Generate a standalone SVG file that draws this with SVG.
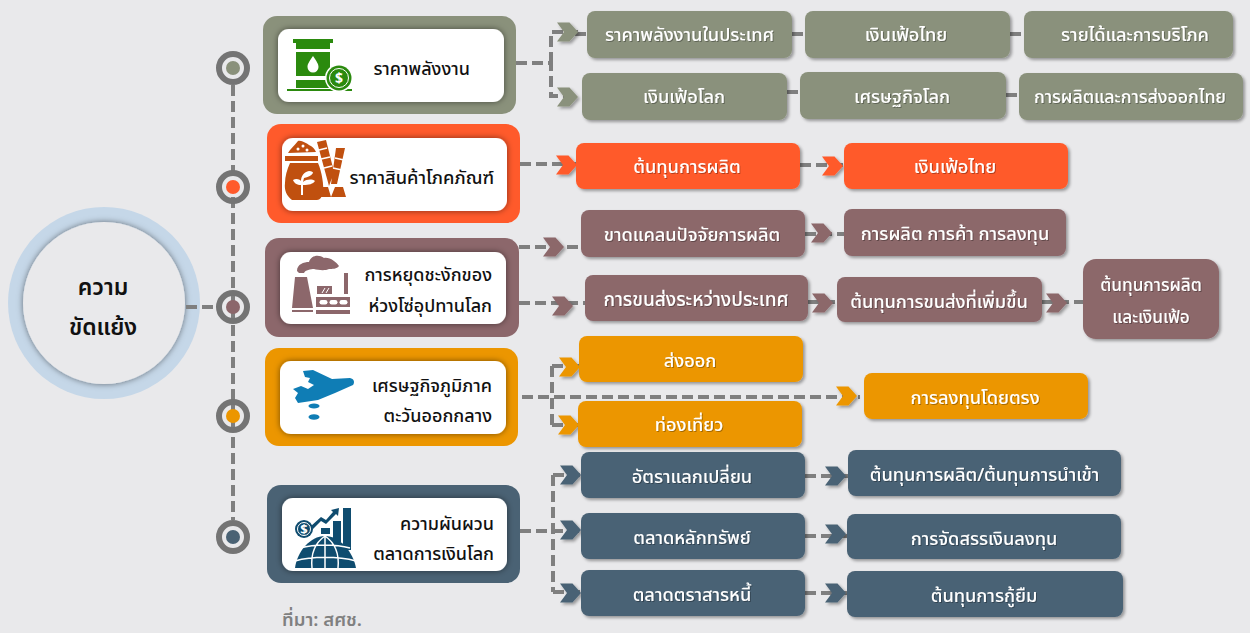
<svg xmlns="http://www.w3.org/2000/svg" width="1250" height="633" viewBox="0 0 1250 633">
<style>
text{font-family:"Noto Sans Thai","Noto Sans","Liberation Sans","DejaVu Sans",sans-serif}
.t{font-size:18px;fill:#111;text-anchor:end;font-weight:500}
.b{font-size:18.2px;fill:#fff;text-anchor:middle;font-weight:500;filter:url(#ts)}
.c{stroke:#7f7f7f;stroke-width:4;fill:none;stroke-dasharray:11 5}
.w{fill:#fff;filter:url(#s)}
.r{filter:url(#s2)}
.ar{filter:url(#s2)}
.ol{fill:#8a917b}.or{fill:#ff5a2b}.ma{fill:#8c676b}.am{fill:#ec9600}.sl{fill:#4a6274}
</style>
<defs>
<filter id="s" x="-10%" y="-20%" width="120%" height="140%"><feDropShadow dx="0" dy="0" stdDeviation="3" flood-color="#000" flood-opacity=".5"/></filter>
<filter id="s2" x="-15%" y="-25%" width="130%" height="150%"><feDropShadow dx="2" dy="2" stdDeviation="1.500" flood-color="#000" flood-opacity=".35"/></filter>
<filter id="ts" x="-5%" y="-20%" width="110%" height="140%"><feDropShadow dx="1" dy="1" stdDeviation=".6" flood-color="#000" flood-opacity=".3"/></filter>
<path id="a" d="M0-9.500H12.500L21 0 12.500 9.500H0L7 0Z"/>
</defs>
<rect width="1250" height="633" fill="#e9e9eb"/>

<g id="center">
<circle cx="104" cy="303" r="96" fill="#c5d7e8"/>
<circle cx="104" cy="303" r="81" fill="#e9e9eb" filter="url(#s)"/>
<text x="103" y="295" font-size="23" font-weight="600" fill="#111" text-anchor="middle">ความ</text>
<text x="103" y="335" font-size="23" font-weight="600" fill="#111" text-anchor="middle">ขัดแย้ง</text>
</g>

<g id="connectors">
<path class="c" d="M233 85V520"/>
<path class="c" d="M186 307H216"/>
<path class="c" d="M516 63H551V96H578M551 63V32H578"/>
<path class="c" d="M575 34H587M792 34H805M1010 34H1024M787 92H800M1006 95H1019"/>
<path class="c" d="M520 164H578M800 165H844"/>
<path class="c" d="M519 247H581M805 234H844"/>
<path class="c" d="M519 303H585M808 302H837M1042 302H1083"/>
<path class="c" d="M522 397H860M552 366V425M552 366H579M552 425H578"/>
<path class="c" d="M520 531H581M553 475V592M553 475H581M553 592H581M805 476H848M805 536H847M805 593H847"/>
<g class="ar">
<use href="#a" class="ol" x="557" y="32"/><use href="#a" class="ol" x="557" y="97"/>
<use href="#a" class="or" x="556" y="165"/><use href="#a" class="or" x="822" y="166"/>
<use href="#a" class="ma" x="543" y="247"/><use href="#a" class="ma" x="811" y="233"/>
<use href="#a" class="ma" x="552" y="306"/><use href="#a" class="ma" x="812" y="303"/><use href="#a" class="ma" x="1046" y="303"/>
<use href="#a" class="am" x="559" y="367"/><use href="#a" class="am" x="558" y="425"/><use href="#a" class="am" x="836" y="396"/>
<use href="#a" class="sl" x="560" y="475"/><use href="#a" class="sl" x="560" y="530"/><use href="#a" class="sl" x="560" y="593"/>
<use href="#a" class="sl" x="825" y="476"/><use href="#a" class="sl" x="825" y="534"/><use href="#a" class="sl" x="825" y="593"/>
</g>
</g>

<g id="dots" fill="none" stroke="#747474" stroke-width="6">
<circle cx="233" cy="68" r="14"/><circle class="ol" cx="233" cy="68" r="7" stroke="none"/>
<circle cx="233" cy="187" r="14"/><circle class="or" cx="233" cy="187" r="7" stroke="none"/>
<circle cx="233" cy="307" r="14"/><circle class="ma" cx="233" cy="307" r="7" stroke="none"/>
<circle cx="233" cy="416" r="14"/><circle class="am" cx="233" cy="416" r="7" stroke="none"/>
<circle cx="233" cy="537" r="14"/><circle class="sl" cx="233" cy="537" r="7" stroke="none"/>
</g>

<g id="n1">
<rect class="ol" x="263" y="16" width="253" height="98" rx="14"/>
<rect class="w" x="278" y="29" width="226" height="73" rx="11"/>
<g fill="#2b8a0e">
<path d="M293 39H333V43H330V49H296V43H293ZM296 52H330V76H296ZM296 80H330V88H296ZM287 89H352V91H287Z"/>
</g>
<circle cx="339" cy="78" r="14" fill="#fff"/>
<circle cx="339" cy="78" r="12.500" fill="#2b8a0e"/>
<path d="M313 56C309 62 307.500 64 307.500 67A5.500 5.500 0 0 0 318.500 67C318.500 64 317 62 313 56Z" fill="#fff"/>
<circle cx="339" cy="78" r="9.500" fill="none" stroke="#fff" stroke-width="1"/>
<text x="339" y="83" font-size="14" font-weight="700" fill="#fff" text-anchor="middle">$</text>
<text class="t" x="470" y="75">ราคาพลังงาน</text>
</g>

<g id="n2">
<rect class="or" x="267" y="124" width="253" height="99" rx="14"/>
<rect class="w" x="282" y="138" width="225" height="73" rx="11"/>
<g fill="#c0500f">
<path d="M288 153C290 149 294 146 298 141C303 140 308 145 311 146C314 148 315 150 316 152ZM285 156H318V161H285ZM290 163H318C322 172 324 186 323 192C322 197 320 200 317 200H292C287 196 284 191 285 183C285 176 287 170 290 163Z"/>
<path d="M317 142L326 140L334 172L329 186ZM336 148H345L337 184L331 184ZM319 187H328L331 197H314ZM335 187H343L346 197H331Z"/>
</g>
<path d="M319 150L327 148M321 159L330 157M324 168L332 166M335 158L344 160M333 168L342 170" stroke="#fff" stroke-width="1.500"/>
<g fill="#fff">
<path d="M301 195V181C301 176 304 172 309 171C312 171 313 172 313 173C311 176 308 177 304 178L303 182C307 179 312 179 315 181C313 184 309 185 303 185V195Z"/>
<path d="M301 185C297 185 294 183 293 180C296 178 300 179 302 182Z"/>
<circle cx="298" cy="149" r="1.500"/><circle cx="303" cy="146" r="1.500"/><circle cx="307" cy="150" r="1.500"/>
</g>
<text class="t" x="494" y="184" style="font-size:18.300px">ราคาสินค้าโภคภัณฑ์</text>
</g>

<g id="n3">
<rect class="ma" x="265" y="238" width="254" height="99" rx="14"/>
<rect class="w" x="280" y="252" width="226" height="72" rx="11"/>
<g fill="#8c676b">
<path d="M297 271C297 264 304 262 309 262C311 255 319 254 324 258C330 257 336 262 339 266C337 269 332 269 329 269C325 271 318 270 314 269C311 269 305 270 304 273H299Z"/>
<path d="M295 277H307L313 308H292ZM292 310H313V312H292Z"/>
<path d="M317 286H332V294H317ZM344 273H348V294H344ZM316 297H350V307H316ZM316 310H350V314H316Z"/>
</g>
<rect x="319.500" y="300" width="8" height="4.500" rx="2.200" fill="#fff"/><rect x="329.500" y="300" width="8" height="4.500" rx="2.200" fill="#fff"/><rect x="339.500" y="300" width="8" height="4.500" rx="2.200" fill="#fff"/>
<path d="M322 293L325 288M326 293L329 288" stroke="#fff" stroke-width="1"/>
<text class="t" x="492" y="281">การหยุดชะงักของ</text>
<text class="t" x="492" y="312">ห่วงโซ่อุปทานโลก</text>
</g>

<g id="n4">
<rect class="am" x="265" y="348" width="253" height="98" rx="14"/>
<rect class="w" x="280" y="361" width="226" height="73" rx="11"/>
<g fill="#0f7db5">
<path d="M303 371L313 370L332 379L350 378C354 379 355 382 353 385L335 393L318 400L298 403L295 398L298 393L293 389L301 386L308 389L314 385L308 382L310 378L305 377Z"/>
<ellipse cx="314" cy="406" rx="5.500" ry="2.600"/><ellipse cx="314" cy="417" rx="5.500" ry="2.800"/>
</g>
<text class="t" x="492" y="392">เศรษฐกิจภูมิภาค</text>
<text class="t" x="492" y="422">ตะวันออกกลาง</text>
</g>

<g id="n5">
<rect class="sl" x="267" y="485" width="253" height="98" rx="14"/>
<rect class="w" x="282" y="498" width="225" height="73" rx="11"/>
<g fill="#0f4c6f">
<path d="M295 568C297 552 310 536 325 536C340 536 353 552 356 568Z"/>
<path d="M321 528H330V534H321ZM333 521H341V542H333ZM343 508H351V550H343Z"/>
<circle cx="304" cy="529" r="9"/>
<path d="M311 526L321 517L326 520L333 512L331 510L339 508L338 516L336 514L326 524L321 521L313 529Z"/>
</g>
<g fill="none" stroke="#fff" stroke-width="1.500">
<path d="M295 561C312 556 338 556 356 561M300 548C315 544 335 544 350 548M325 536V568M325 536C312 545 311 558 312 568M325 536C338 545 339 558 338 568"/>
</g>
<circle cx="304" cy="529" r="6.500" fill="none" stroke="#fff" stroke-width="1"/>
<text x="304" y="534" font-size="13" font-weight="700" fill="#fff" text-anchor="middle">$</text>
<text class="t" x="494" y="530">ความผันผวน</text>
<text class="t" x="494" y="560">ตลาดการเงินโลก</text>
</g>

<g id="o1"><rect class="ol r" x="587" y="11" width="205" height="47" rx="8"/><text class="b" x="689.500" y="41">ราคาพลังงานในประเทศ</text></g>
<g id="o2"><rect class="ol r" x="805" y="11" width="205" height="47" rx="8"/><text class="b" x="906" y="41">เงินเฟ้อไทย</text></g>
<g id="o3"><rect class="ol r" x="1024" y="11" width="209" height="47" rx="8"/><text class="b" x="1135" y="41">รายได้และการบริโภค</text></g>
<g id="o4"><rect class="ol r" x="582" y="73" width="205" height="47" rx="8"/><text class="b" x="684" y="103">เงินเฟ้อโลก</text></g>
<g id="o5"><rect class="ol r" x="800" y="72" width="206" height="47" rx="8"/><text class="b" x="902" y="103">เศรษฐกิจโลก</text></g>
<g id="o6"><rect class="ol r" x="1019" y="73" width="224" height="47" rx="8"/><text class="b" x="1130" y="103" style="font-size:17.700px">การผลิตและการส่งออกไทย</text></g>
<g id="r1"><rect class="or r" x="576" y="143" width="224" height="46" rx="8"/><text class="b" x="687" y="173">ต้นทุนการผลิต</text></g>
<g id="r2"><rect class="or r" x="844" y="143" width="224" height="46" rx="8"/><text class="b" x="955" y="173">เงินเฟ้อไทย</text></g>
<g id="m1"><rect class="ma r" x="581" y="210" width="224" height="47" rx="8"/><text class="b" x="692" y="241">ขาดแคลนปัจจัยการผลิต</text></g>
<g id="m2"><rect class="ma r" x="844" y="209" width="222" height="47" rx="8"/><text class="b" x="955" y="240">การผลิต การค้า การลงทุน</text></g>
<g id="m3"><rect class="ma r" x="585" y="275" width="223" height="46" rx="8"/><text class="b" x="696" y="306" style="font-size:19px">การขนส่งระหว่างประเทศ</text></g>
<g id="m4"><rect class="ma r" x="837" y="277" width="205" height="45" rx="8"/><text class="b" x="939" y="308">ต้นทุนการขนส่งที่เพิ่มขึ้น</text></g>
<g id="m5"><rect class="ma r" x="1083" y="259" width="136" height="80" rx="13"/><text class="b" x="1151" y="291" style="font-size:17.200px">ต้นทุนการผลิต</text><text class="b" x="1151" y="323" style="font-size:17.200px">และเงินเฟ้อ</text></g>
<g id="a1"><rect class="am r" x="579" y="336" width="224" height="46" rx="8"/><text class="b" x="690" y="367">ส่งออก</text></g>
<g id="a2"><rect class="am r" x="578" y="401" width="224" height="46" rx="8"/><text class="b" x="689" y="431">ท่องเที่ยว</text></g>
<g id="a3"><rect class="am r" x="864" y="373" width="224" height="46" rx="8"/><text class="b" x="975" y="404">การลงทุนโดยตรง</text></g>
<g id="s1"><rect class="sl r" x="581" y="452" width="224" height="46" rx="8"/><text class="b" x="692" y="483">อัตราแลกเปลี่ยน</text></g>
<g id="s2n"><rect class="sl r" x="848" y="450" width="273" height="46" rx="8"/><text class="b" x="984.500" y="481">ต้นทุนการผลิต/ต้นทุนการนำเข้า</text></g>
<g id="s3"><rect class="sl r" x="581" y="513" width="224" height="46" rx="8"/><text class="b" x="692" y="544">ตลาดหลักทรัพย์</text></g>
<g id="s4"><rect class="sl r" x="847" y="514" width="274" height="45" rx="8"/><text class="b" x="984" y="545">การจัดสรรเงินลงทุน</text></g>
<g id="s5"><rect class="sl r" x="581" y="570" width="224" height="46" rx="8"/><text class="b" x="692" y="601">ตลาดตราสารหนี้</text></g>
<g id="s6"><rect class="sl r" x="847" y="571" width="276" height="46" rx="8"/><text class="b" x="984" y="602">ต้นทุนการกู้ยืม</text></g>
<text id="source" x="282" y="626" font-size="18.500" font-weight="600" fill="#808080">ที่มา: สศช.</text>
</svg>
